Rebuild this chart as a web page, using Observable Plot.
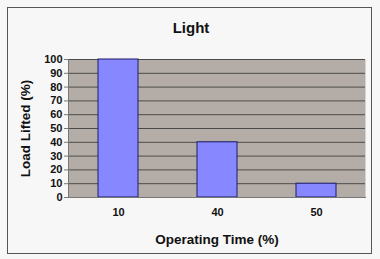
<!DOCTYPE html>
<html><head><meta charset="utf-8">
<script src="https://cdn.jsdelivr.net/npm/d3@7"></script>
<script src="https://cdn.jsdelivr.net/npm/@observablehq/plot@0.6"></script>
<style>
body{margin:0;background:#fff;}
#wrap{position:relative;width:380px;height:259px;background:#f7f7f7;}
#box{position:absolute;left:7px;top:7px;width:363px;height:245px;border:1.5px solid #555;}
#wrap svg{position:absolute;left:0;top:0;}
</style></head>
<body><div id="wrap"><div id="box"></div></div>
<script>
const title = "Light";
const categories = ["10", "40", "50"];
const values = [100, 40, 10];
const yTicks = [0, 10, 20, 30, 40, 50, 60, 70, 80, 90, 100];
const xLabel = "Operating Time (%)";
const yLabel = "Load Lifted (%)";

const data = categories.map((c, i) => ({cat: c, value: values[i]}));

const chart = Plot.plot({
  width: 380, height: 259,
  marginTop: 59, marginBottom: 62, marginLeft: 68, marginRight: 15,
  style: {background: "transparent", fontFamily: "Liberation Sans, Arial, sans-serif", fontWeight: "bold", fontSize: "11px", color: "#111"},
  x: {domain: categories, paddingInner: 0.6, paddingOuter: 0.3},
  y: {domain: [0, 100]},
  marks: [
    Plot.frame({fill: "#b4ada7", stroke: "none"}),
    Plot.ruleY(yTicks.slice(1), {stroke: "#4a4a4a", strokeWidth: 1}),
    Plot.barY(data, {x: "cat", y: "value", fill: "#8787ff", stroke: "#1c1c6a", strokeWidth: 1}),
    Plot.frame({anchor: "left", stroke: "#777"}),
    Plot.frame({anchor: "bottom", stroke: "#777"}),
    Plot.axisY({ticks: yTicks, tickSize: 4, tickPadding: 2, stroke: "#777", label: yLabel, labelAnchor: "center", labelArrow: "none", labelOffset: 48, fontSize: 11}),
    Plot.axisX({tickSize: 0, tickPadding: 11, label: xLabel, labelAnchor: "center", labelArrow: "none", labelOffset: 46}),
    Plot.text([title], {text: d => d, frameAnchor: "top", dy: -37, dx: -26, fontSize: 15, fontWeight: "bold"})
  ]
});
chart.querySelectorAll('[aria-label="x-axis label"] text, [aria-label="y-axis label"] text').forEach(t => t.setAttribute("font-size", "13.5px"));
document.getElementById("wrap").appendChild(chart);
</script>
</body></html>
